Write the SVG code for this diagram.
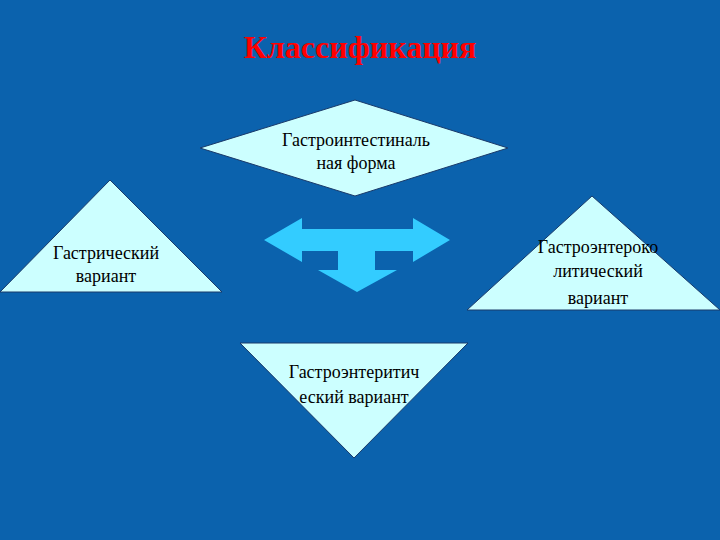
<svg xmlns="http://www.w3.org/2000/svg" width="720" height="540" viewBox="0 0 720 540">
<style>
.s{fill:#ccffff;stroke:#1a3a6a;stroke-width:1}
.t{font-family:"Liberation Serif",serif;font-size:18px;fill:#000;text-anchor:middle}
</style>
<rect width="720" height="540" fill="#0b62ad"/>
<text x="360" y="58" font-family="Liberation Serif,serif" font-size="32" font-weight="bold" fill="#ff0000" text-anchor="middle">Классификация</text>
<g id="connectors">
<path d="M264,240 L302,218 L302,229 L413,229 L413,218 L450,240 L413,262 L413,251 L375,251 L375,270 L397,270 L357,292 L318,270 L338,270 L338,251 L302,251 L302,262 Z" fill="#33ccff"/>
</g>
<g id="n1"><polygon class="s" points="200,148 355,100 508,148 355,196"/>
<text class="t" x="356" y="146">Гастроинтестиналь</text><text class="t" x="356" y="169">ная форма</text></g>
<g id="n2"><polygon class="s" points="0,292 110,180 222,292"/>
<text class="t" x="106" y="259">Гастрический</text><text class="t" x="106" y="282">вариант</text></g>
<g id="n3"><polygon class="s" points="467,310 592,196 720,310"/>
<text class="t" x="598" y="253">Гастроэнтероко</text><text class="t" x="598" y="277">литический</text><text class="t" x="598" y="304">вариант</text></g>
<g id="n4"><polygon class="s" points="240,343 468,343 354,458"/>
<text class="t" x="354" y="378">Гастроэнтеритич</text><text class="t" x="354" y="403">еский вариант</text></g>
</svg>
